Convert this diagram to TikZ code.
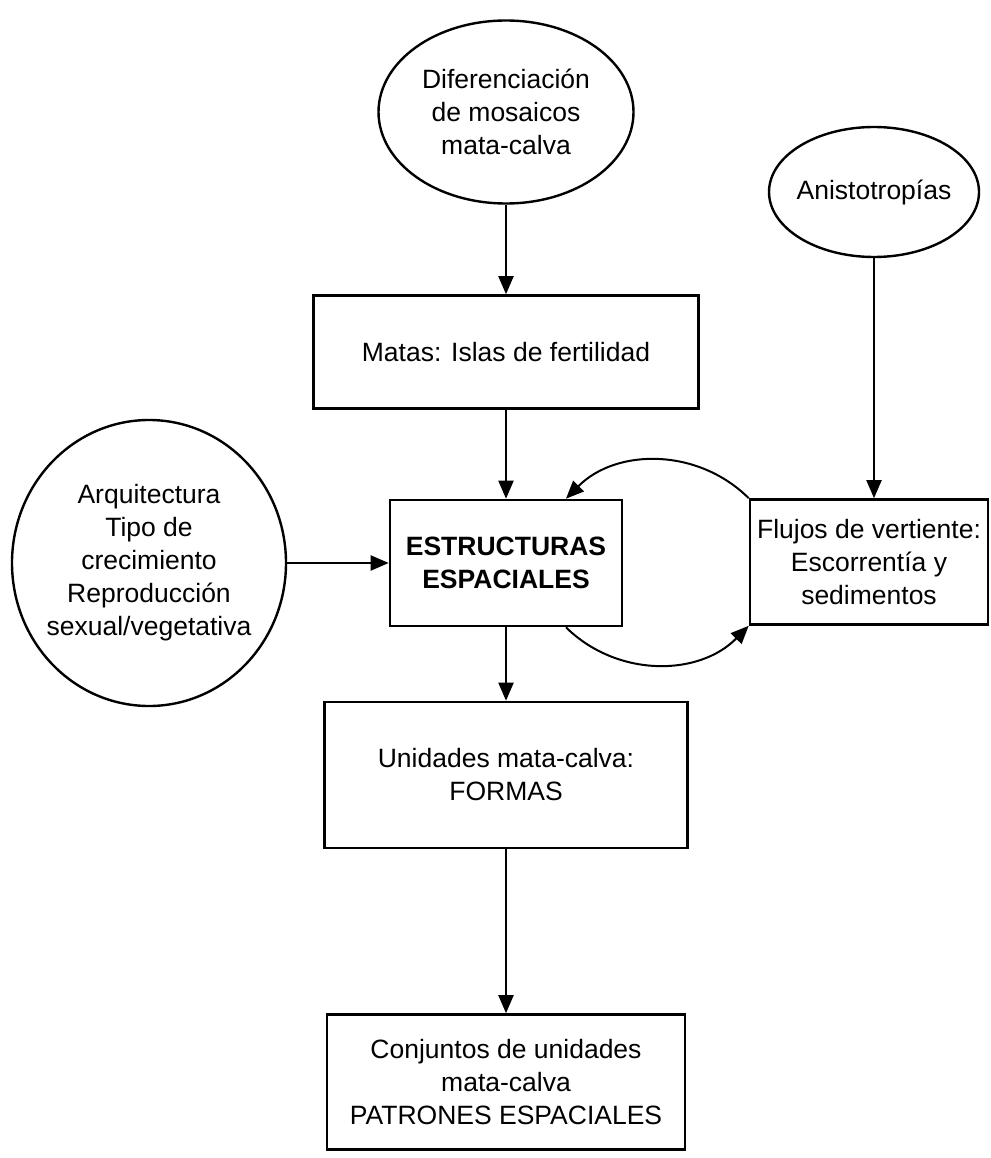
\documentclass[tikz,border=0pt]{standalone}
\usepackage{fontspec}
\setmainfont{Liberation Sans}
\usetikzlibrary{shapes.geometric,arrows.meta}
\newcommand{\boxFont}[0]{\fontsize{26.5}{33}\selectfont}

\begin{document}
\begin{tikzpicture}[x=1pt, y=1pt]
  \tikzset{every node/.style={font=\boxFont, align=center, inner sep=0pt},
    blockbox/.style={draw, rectangle, line width=2.6pt},
    ovalbox/.style={draw, ellipse, line width=2.4pt},
    >={Triangle[length=18pt, width=15pt]},
    every path/.append style={line width=2pt}}
  \useasboundingbox (0,0) rectangle (990,-1158);
  \node[ovalbox, minimum width=255, minimum height=183] (E-dif) at (506,-112)
    {Diferenciación\\de mosaicos\\mata-calva};
  \node[ovalbox, minimum width=210, minimum height=130, inner xsep=-5pt] (E-anis) at (874,-192)
    {Anistotropías};
  \node[blockbox, minimum width=385, minimum height=113] (B-matas) at (506,-352)
    {Matas: Islas de fertilidad};
  \node[ovalbox, minimum width=274, minimum height=286, inner xsep=-6pt] (E-arq) at (149,-563)
    {Arquitectura\\Tipo de\\crecimiento\\Reproducción\\sexual/vegetativa};
  \node[blockbox, minimum width=232, minimum height=126, font=\boxFont\bfseries] (B-estr) at (506,-563)
    {ESTRUCTURAS\\ESPACIALES};
  \node[blockbox, minimum width=238, minimum height=125] (B-flujos) at (869,-562)
    {Flujos de vertiente:\\Escorrentía y\\sedimentos};
  \node[blockbox, minimum width=363, minimum height=146] (B-unid) at (506,-775)
    {Unidades mata-calva:\\FORMAS};
  \node[blockbox, minimum width=358, minimum height=135] (B-conj) at (506,-1082)
    {Conjuntos de unidades\\mata-calva\\PATRONES ESPACIALES};
  \draw[->] (E-dif) -- (B-matas);
  \draw[->] (B-matas) -- (B-estr);
  \draw[->] (E-arq) -- (B-estr);
  \draw[->] (E-anis.south) -- (E-anis.south |- B-flujos.north);
  \draw[->] (B-flujos.north west) to[bend right=45] (B-estr.47);
  \draw[->] (B-estr.-47) to[bend right=45] (B-flujos.south west);
  \draw[->] (B-estr) -- (B-unid);
  \draw[->] (B-unid) -- (B-conj);
\end{tikzpicture}
\end{document}
